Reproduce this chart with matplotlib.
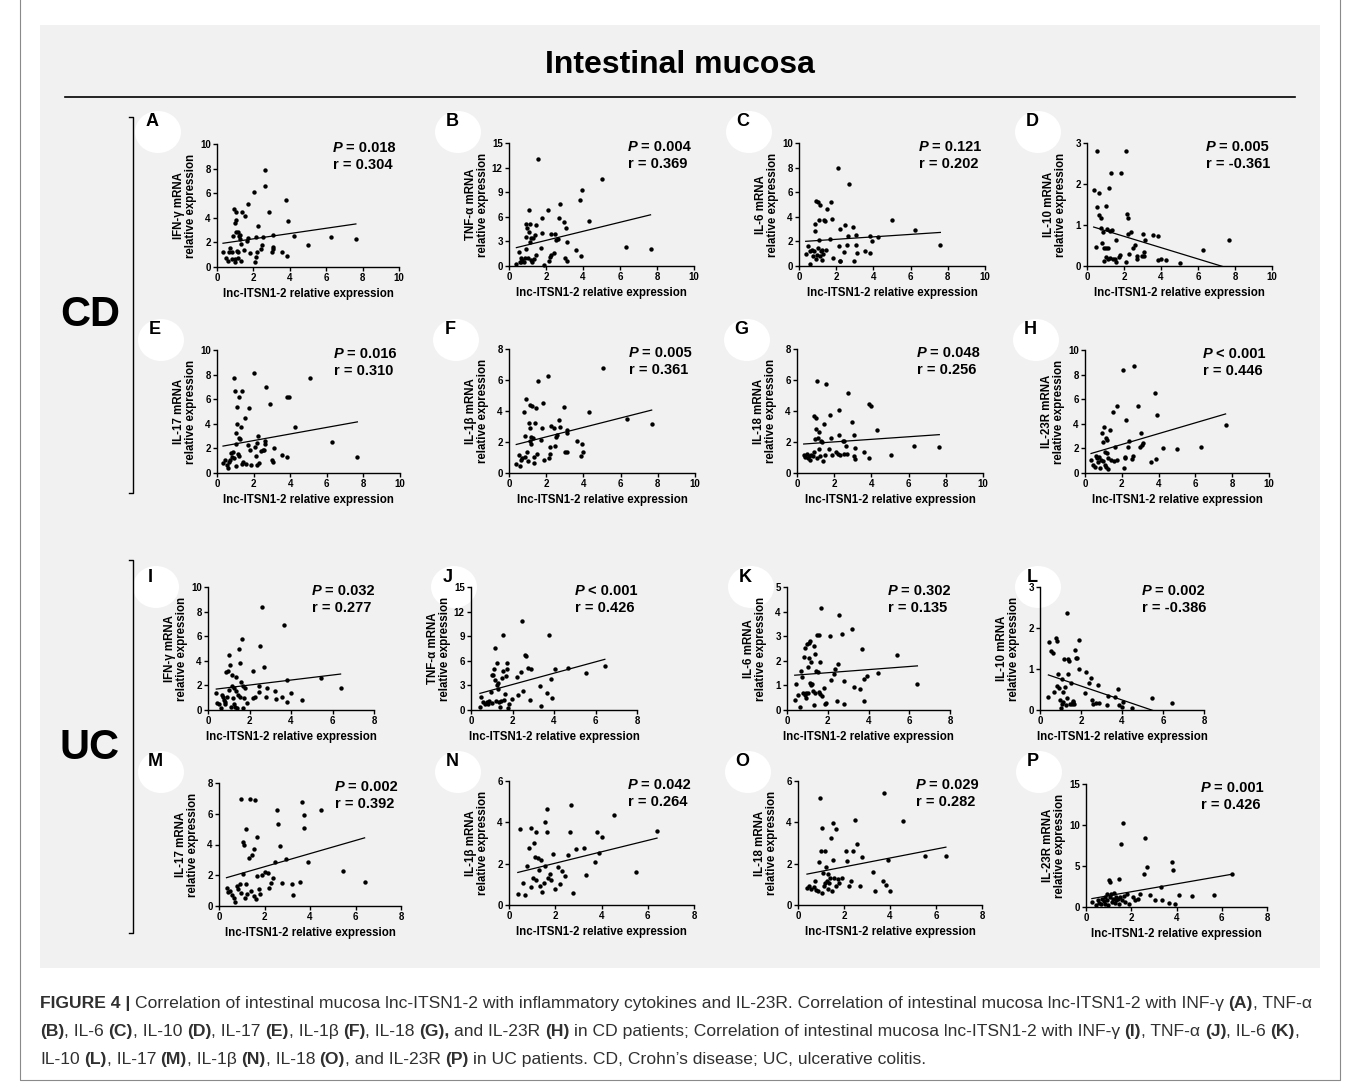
import numpy as np
import matplotlib
matplotlib.use('Agg')
import matplotlib.pyplot as plt
from matplotlib.patches import Rectangle, Ellipse
from matplotlib.lines import Line2D
from matplotlib import font_manager

W, H = 1360, 1085
plt.rcParams['font.family'] = ['Liberation Sans', 'DejaVu Sans']
plt.rcParams['font.weight'] = 'bold'
plt.rcParams['axes.linewidth'] = 1.0

# ---- CD panels (A-H) ----
a_x = [0.33,0.47,0.6,0.68,0.73,0.8,0.82,0.88,0.91,0.97,1.0,1.0,1.02,1.06,1.06,1.09,1.13,1.13,1.17,1.2,1.24,1.28,1.31,1.33,1.39,1.46,1.53,1.64,1.73,1.73,1.82,2.06,2.1,2.14,2.14,2.19,2.23,2.41,2.46,2.55,2.61,2.65,2.88,3.01,3.05,3.1,3.1,3.56,3.8,3.83,3.92,4.23,5.02,6.24,7.63]
a_y = [1.25,0.76,0.5,1.25,1.52,0.65,1.25,2.55,4.7,0.65,0.43,3.56,3.83,4.5,2.88,1.33,2.88,0.7,1.25,2.55,2.28,2.6,1.85,0.5,4.46,1.39,4.16,2.12,2.39,5.14,1.1,6.09,0.43,0.84,2.47,1.2,3.34,1.47,1.79,2.47,6.55,7.85,4.51,1.25,2.6,1.66,1.47,1.25,5.46,0.92,3.7,2.55,1.79,2.47,2.28]

b_x = [0.4,0.52,0.58,0.63,0.67,0.72,0.79,0.85,0.9,0.94,0.94,0.97,1.03,1.06,1.08,1.12,1.15,1.17,1.21,1.25,1.3,1.34,1.39,1.44,1.48,1.57,1.75,1.8,1.8,1.88,2.11,2.17,2.2,2.26,2.29,2.44,2.47,2.56,2.65,2.71,2.74,2.96,3.01,3.1,3.14,3.12,3.61,3.86,3.9,3.97,4.31,5.05,6.32,7.65]
b_y = [0.24,1.67,0.53,1.02,0.45,0.73,0.53,1.02,2.08,3.59,5.1,4.6,0.94,6.77,4.2,2.98,5.1,3.38,0.73,0.45,3.46,0.86,3.79,5.01,1.35,13.04,2.16,4.08,5.83,0.12,6.85,0.61,1.14,1.35,3.87,1.55,3.87,3.18,3.3,5.83,7.5,5.34,1.02,4.61,0.61,2.9,1.96,8.07,1.22,9.29,5.54,10.64,2.32,2.04]

c_x = [0.36,0.48,0.57,0.61,0.71,0.75,0.79,0.84,0.86,0.89,0.93,0.96,1.02,1.04,1.07,1.09,1.11,1.14,1.18,1.22,1.25,1.29,1.34,1.38,1.47,1.52,1.65,1.74,1.79,1.83,2.09,2.15,2.18,2.22,2.22,2.4,2.45,2.58,2.63,2.69,2.9,2.94,3.04,3.08,3.11,3.53,3.8,3.83,3.94,4.24,5.02,6.25,7.6]
c_y = [1.0,1.6,0.19,1.19,1.33,0.79,1.19,2.82,3.44,0.6,5.31,0.92,5.2,1.46,2.14,3.77,0.79,4.99,1.19,1.33,0.51,1.0,3.77,3.63,1.27,4.66,2.22,5.2,3.85,0.65,7.97,1.6,0.43,0.38,3.04,1.14,3.31,1.73,2.41,6.67,3.14,0.43,1.73,2.49,1.06,1.19,2.41,1.06,2.06,2.36,3.77,2.9,1.68]

d_x = [0.36,0.51,0.56,0.56,0.65,0.65,0.78,0.78,0.83,0.87,0.9,0.94,1.01,1.01,1.05,1.08,1.12,1.14,1.19,1.23,1.27,1.32,1.36,1.41,1.5,1.56,1.59,1.74,1.81,1.86,2.1,2.13,2.17,2.22,2.19,2.28,2.4,2.5,2.59,2.68,2.71,2.95,3.0,3.07,3.09,3.13,3.58,3.85,3.85,3.98,4.27,5.03,6.29,7.65]
d_y = [1.86,0.47,2.8,1.45,1.77,1.24,1.16,0.93,0.57,0.83,0.43,0.11,1.47,0.43,0.22,0.9,0.16,0.44,1.9,0.2,0.85,2.27,0.87,0.16,0.16,0.63,0.1,0.22,0.26,2.26,0.1,2.81,1.28,1.16,0.79,0.3,0.83,0.44,0.5,0.25,0.16,0.25,0.79,0.34,0.24,0.63,0.75,0.74,0.14,0.18,0.14,0.08,0.38,0.63]

e_x = [0.33,0.45,0.55,0.6,0.67,0.73,0.78,0.82,0.87,0.91,0.95,1.0,1.02,1.05,1.05,1.09,1.09,1.13,1.18,1.18,1.22,1.27,1.31,1.35,1.38,1.42,1.55,1.6,1.67,1.73,1.78,1.85,2.04,2.09,2.15,2.16,2.18,2.24,2.27,2.4,2.49,2.55,2.6,2.64,2.67,2.91,3.0,3.05,3.09,3.55,3.85,3.85,3.96,4.27,5.09,6.27,7.67]
e_y = [0.82,1.03,0.63,0.43,0.9,1.03,1.63,1.3,1.71,7.74,1.22,6.68,2.39,0.54,3.29,5.38,3.97,1.52,6.14,1.36,2.83,2.8,3.7,0.76,6.68,0.9,4.51,0.71,2.26,5.27,1.9,0.63,8.15,2.12,1.36,0.63,2.45,2.99,0.82,1.79,1.9,1.9,2.34,2.61,6.96,5.65,1.03,0.9,2.07,1.44,1.3,6.14,6.2,3.7,7.69,2.53,1.3]

f_x = [0.39,0.52,0.61,0.66,0.72,0.79,0.84,0.88,0.93,0.97,1.02,1.08,1.11,1.11,1.15,1.17,1.2,1.24,1.27,1.33,1.35,1.38,1.44,1.51,1.58,1.71,1.8,1.83,1.87,2.12,2.15,2.19,2.22,2.28,2.42,2.46,2.55,2.59,2.68,2.73,2.94,3.02,3.12,3.14,3.14,3.63,3.9,3.99,3.86,4.31,5.06,6.32,7.67]
f_y = [0.61,1.19,0.43,0.82,0.97,3.96,1.04,2.38,4.76,1.36,0.78,3.24,2.88,4.39,2.08,1.86,2.34,4.32,2.23,0.65,1.04,3.2,4.17,1.21,5.95,2.12,2.92,4.54,0.82,6.29,0.99,1.69,1.21,3.03,2.88,1.73,2.34,2.44,3.42,2.94,4.28,1.36,2.77,1.36,2.59,2.05,1.84,1.36,1.1,3.96,6.77,3.48,3.16]

g_x = [0.36,0.45,0.54,0.57,0.63,0.68,0.75,0.86,0.9,0.93,0.95,1.04,1.04,1.08,1.08,1.13,1.16,1.2,1.25,1.29,1.34,1.38,1.43,1.49,1.58,1.74,1.79,1.83,1.88,2.11,2.19,2.24,2.28,2.29,2.46,2.51,2.54,2.65,2.69,2.74,2.96,3.05,3.08,3.1,3.14,3.62,3.85,3.89,3.98,4.3,5.05,6.31,7.65]
g_y = [1.14,1.03,1.25,0.97,1.08,0.86,1.18,1.12,3.7,1.33,2.19,2.84,3.55,5.91,0.97,2.26,1.55,2.62,1.08,2.04,1.98,0.8,3.18,1.14,5.76,1.55,3.72,2.26,1.18,1.33,1.23,4.09,2.47,1.18,2.04,1.25,2.04,1.72,1.25,5.16,3.31,1.08,2.47,1.61,0.92,1.33,4.47,0.97,4.32,2.75,1.18,1.72,1.68]

h_x = [0.33,0.45,0.54,0.6,0.67,0.72,0.78,0.82,0.85,0.91,0.96,0.99,1.03,1.07,1.09,1.12,1.14,1.18,1.21,1.25,1.27,1.36,1.39,1.5,1.58,1.63,1.72,1.76,2.08,2.12,2.17,2.17,2.23,2.36,2.41,2.54,2.59,2.66,2.9,2.99,3.04,3.08,3.13,3.57,3.8,3.84,3.93,4.26,5.02,6.29,7.64]
h_y = [1.06,0.65,0.51,1.41,1.19,0.92,1.33,0.38,1.06,3.28,1.0,2.55,3.77,0.65,1.73,2.82,0.51,1.65,2.68,0.33,1.19,3.5,1.06,4.99,1.0,2.09,5.47,1.06,8.37,0.38,1.33,1.19,4.31,2.14,2.6,1.11,1.38,8.7,5.45,2.09,3.22,2.28,2.47,0.92,6.48,1.11,4.72,2.01,1.92,2.09,3.9]

# ---- UC panels (I-P) ----
i_x = [0.4,0.43,0.51,0.63,0.67,0.72,0.79,0.8,0.83,0.88,0.91,0.96,0.99,1.03,1.07,1.11,1.15,1.17,1.2,1.23,1.27,1.3,1.33,1.36,1.39,1.43,1.47,1.52,1.55,1.6,1.63,1.67,1.71,1.75,1.79,1.87,2.16,2.19,2.28,2.44,2.48,2.51,2.6,2.68,2.79,2.83,3.24,3.27,3.56,3.67,3.8,3.8,3.99,4.52,5.43,6.39]
i_y = [1.35,0.54,0.46,0.19,1.22,1.08,0.81,0.46,0.68,3.05,1.08,3.16,4.46,1.62,3.65,0.27,2.84,1.97,1.0,0.46,1.81,0.27,2.7,1.54,0.19,1.22,4.92,3.86,1.08,2.3,5.76,1.97,0.19,1.0,1.81,0.59,3.16,0.95,1.03,1.97,1.49,5.19,8.38,3.51,1.08,1.76,1.54,0.89,1.08,6.95,2.43,0.62,1.35,0.81,2.57,1.76]

j_x = [0.43,0.48,0.6,0.68,0.76,0.84,0.89,0.95,0.99,1.03,1.08,1.11,1.16,1.16,1.19,1.24,1.27,1.29,1.32,1.37,1.4,1.43,1.48,1.53,1.56,1.59,1.64,1.67,1.72,1.75,1.79,1.83,1.96,2.21,2.25,2.4,2.48,2.53,2.61,2.66,2.77,2.85,2.9,3.33,3.36,3.66,3.78,3.86,3.9,4.06,4.67,5.54,6.45]
j_y = [0.41,1.62,0.93,0.69,0.93,0.69,1.09,2.15,4.26,0.81,4.26,4.99,7.58,3.65,1.09,3.04,5.68,2.55,3.24,0.93,0.41,1.09,3.93,4.74,9.2,1.22,1.9,4.18,4.99,5.68,0.2,0.69,1.34,4.05,1.82,4.66,10.82,2.31,6.69,6.61,5.07,1.22,4.99,2.96,0.53,2.03,9.2,3.77,1.42,4.95,5.15,4.46,5.39]

k_x = [0.38,0.44,0.52,0.65,0.69,0.73,0.78,0.85,0.87,0.9,0.93,0.95,0.98,1.01,1.03,1.06,1.09,1.11,1.14,1.18,1.19,1.22,1.26,1.31,1.34,1.36,1.39,1.44,1.47,1.5,1.55,1.58,1.6,1.63,1.67,1.71,1.8,1.88,1.93,2.12,2.17,2.29,2.37,2.45,2.5,2.53,2.69,2.78,2.82,3.18,3.27,3.56,3.67,3.76,3.8,3.95,4.49,5.42,6.4]
k_y = [0.41,1.04,0.61,0.14,1.58,1.35,0.68,2.16,0.61,2.54,0.47,0.68,2.7,1.76,0.68,2.74,2.12,1.08,2.81,1.01,1.96,1.04,0.77,0.2,2.59,0.68,2.26,1.58,3.04,1.55,3.04,0.74,1.96,0.64,4.15,0.57,0.91,0.23,0.3,3.01,1.22,1.45,1.66,0.36,1.86,3.88,3.08,0.23,1.19,3.28,0.92,0.85,2.46,0.36,1.24,1.38,1.49,2.23,1.04]

l_x = [0.41,0.44,0.52,0.65,0.7,0.76,0.81,0.85,0.89,0.94,0.98,1.01,1.06,1.09,1.11,1.14,1.19,1.22,1.27,1.3,1.33,1.37,1.38,1.43,1.46,1.51,1.54,1.59,1.63,1.66,1.71,1.76,1.82,1.92,1.92,2.2,2.24,2.41,2.47,2.52,2.6,2.73,2.85,2.88,3.28,3.33,3.66,3.82,3.85,3.98,4.03,4.5,5.48,6.42]
l_y = [0.32,1.66,1.44,1.38,0.43,1.76,1.68,0.58,0.87,0.53,0.24,0.06,0.14,0.75,0.2,0.45,1.24,0.57,0.12,0.3,2.37,1.24,0.89,1.19,0.14,0.65,0.14,0.22,0.19,0.14,1.46,1.27,1.27,1.7,1.0,0.41,0.92,0.65,0.77,0.24,0.14,0.16,0.61,0.16,0.12,0.35,0.32,0.51,0.12,0.08,0.19,0.04,0.3,0.16]

m_x = [0.33,0.39,0.49,0.55,0.65,0.72,0.78,0.85,0.91,0.98,0.98,1.04,1.07,1.11,1.14,1.17,1.2,1.24,1.3,1.37,1.4,1.46,1.53,1.56,1.59,1.63,1.66,1.69,1.76,1.82,1.89,2.02,2.15,2.21,2.28,2.37,2.47,2.54,2.6,2.7,2.76,2.93,3.19,3.25,3.54,3.67,3.74,3.74,3.9,4.49,5.43,6.4]
m_y = [1.19,0.91,0.97,0.69,0.54,0.26,1.3,1.12,1.41,6.96,0.86,4.15,2.05,4.0,0.54,1.41,5.02,0.76,3.14,6.96,0.97,3.29,0.65,3.72,6.92,0.48,4.5,1.95,1.08,0.76,1.99,2.2,2.12,1.19,1.51,1.84,2.85,6.23,5.35,3.89,1.47,3.07,1.41,0.69,1.56,6.75,5.95,5.08,2.85,6.27,2.27,1.56]

n_x = [0.38,0.48,0.61,0.7,0.77,0.86,0.93,0.96,1.02,1.09,1.12,1.15,1.18,1.25,1.28,1.34,1.38,1.44,1.5,1.54,1.57,1.63,1.66,1.7,1.76,1.82,1.89,1.98,2.14,2.21,2.3,2.4,2.53,2.62,2.69,2.78,2.88,3.26,3.33,3.74,3.81,3.9,4.0,4.54,5.5,6.4]
n_y = [0.55,3.67,1.08,0.5,1.9,2.75,0.88,3.71,1.3,3.02,2.31,3.55,1.19,2.27,1.7,0.92,2.19,0.61,1.05,4.04,1.9,3.55,4.63,1.3,1.51,1.22,2.48,0.77,1.85,1.03,1.64,1.41,2.43,3.52,4.84,0.58,2.73,2.77,1.45,2.09,3.55,2.54,3.31,4.36,1.62,3.6]

o_x = [0.39,0.48,0.55,0.68,0.74,0.8,0.87,0.93,0.96,0.99,1.03,1.06,1.09,1.13,1.16,1.19,1.22,1.25,1.29,1.32,1.35,1.38,1.45,1.48,1.51,1.54,1.58,1.64,1.67,1.74,1.8,1.9,2.09,2.15,2.22,2.31,2.41,2.48,2.57,2.7,2.8,3.28,3.34,3.7,3.76,3.83,3.92,3.99,4.57,5.53,6.43]
o_y = [0.82,0.9,0.77,0.87,1.14,0.74,0.66,2.06,5.19,2.59,0.58,3.71,1.54,0.9,1.06,2.59,1.86,1.14,1.48,0.77,1.06,1.3,3.23,0.66,3.99,2.19,1.3,3.68,0.9,1.25,1.06,1.3,2.59,2.15,0.93,1.14,2.59,4.1,2.97,0.93,2.33,1.61,0.66,1.14,5.4,0.98,2.17,0.66,4.05,2.38,2.38]

p_x = [0.26,0.42,0.52,0.59,0.65,0.72,0.78,0.82,0.85,0.92,0.95,0.98,1.01,1.05,1.08,1.11,1.14,1.18,1.24,1.27,1.31,1.34,1.41,1.44,1.47,1.5,1.54,1.57,1.63,1.7,1.73,1.8,1.9,2.06,2.16,2.32,2.39,2.55,2.61,2.71,2.81,3.04,3.3,3.37,3.69,3.79,3.86,3.92,4.12,4.67,5.65,6.45]
p_y = [0.61,0.2,0.9,0.49,0.33,1.02,0.74,1.23,0.41,1.55,0.9,0.2,3.35,1.23,3.07,1.63,0.61,1.02,1.72,0.49,1.23,0.82,1.02,3.47,0.33,1.23,7.68,0.9,10.22,1.31,0.61,1.55,0.33,1.23,0.9,1.02,1.55,4.0,8.38,4.9,1.43,0.9,2.45,0.82,0.49,5.52,4.5,0.33,1.43,1.31,1.43,4.0]

# regression lines: (intercept, slope)
fits = {'A': (1.86, 0.215), 'B': (2.02, 0.552), 'C': (1.97, 0.10), 'D': (1.0, -0.138),
        'E': (2.1, 0.268), 'F': (1.72, 0.305), 'G': (1.84, 0.083), 'H': (1.44, 0.44),
        'I': (1.62, 0.204), 'J': (1.73, 0.69), 'K': (1.39, 0.063), 'L': (0.925, -0.17),
        'M': (1.7, 0.427), 'N': (1.47, 0.276), 'O': (1.41, 0.216), 'P': (0.9, 0.48)}

p_text = {'A': '= 0.018', 'B': '= 0.004', 'C': '= 0.121', 'D': '= 0.005',
          'E': '= 0.016', 'F': '= 0.005', 'G': '= 0.048', 'H': '< 0.001',
          'I': '= 0.032', 'J': '< 0.001', 'K': '= 0.302', 'L': '= 0.002',
          'M': '= 0.002', 'N': '= 0.042', 'O': '= 0.029', 'P': '= 0.001'}
r_text = {'A': '0.304', 'B': '0.369', 'C': '0.202', 'D': '-0.361',
          'E': '0.310', 'F': '0.361', 'G': '0.256', 'H': '0.446',
          'I': '0.277', 'J': '0.426', 'K': '0.135', 'L': '-0.386',
          'M': '0.392', 'N': '0.264', 'O': '0.282', 'P': '0.426'}

cytokines = ['IFN-γ', 'TNF-α', 'IL-6', 'IL-10', 'IL-17', 'IL-1β', 'IL-18', 'IL-23R']
y_max = {'A': 10, 'B': 15, 'C': 10, 'D': 3, 'E': 10, 'F': 8, 'G': 8, 'H': 10,
         'I': 10, 'J': 15, 'K': 5, 'L': 3, 'M': 8, 'N': 6, 'O': 6, 'P': 15}
y_step = {'A': 2, 'B': 3, 'C': 2, 'D': 1, 'E': 2, 'F': 2, 'G': 2, 'H': 2,
          'I': 2, 'J': 3, 'K': 1, 'L': 1, 'M': 2, 'N': 2, 'O': 2, 'P': 5}

series = {'A': (a_x, a_y), 'B': (b_x, b_y), 'C': (c_x, c_y), 'D': (d_x, d_y),
          'E': (e_x, e_y), 'F': (f_x, f_y), 'G': (g_x, g_y), 'H': (h_x, h_y),
          'I': (i_x, i_y), 'J': (j_x, j_y), 'K': (k_x, k_y), 'L': (l_x, l_y),
          'M': (m_x, m_y), 'N': (n_x, n_y), 'O': (o_x, o_y), 'P': (p_x, p_y)}

# axes boxes in pixels: left, right, top, bottom
boxes = {'A': (217, 399, 144, 267), 'B': (509, 694, 143, 266), 'C': (799, 985, 143, 266), 'D': (1087, 1272, 143, 266),
         'E': (217, 400, 350, 473), 'F': (509, 695, 349, 473), 'G': (797, 983, 349, 473), 'H': (1085, 1269, 350, 473),
         'I': (208, 374, 587, 710), 'J': (471, 637, 587, 710), 'K': (787, 950, 587, 710), 'L': (1040, 1204, 587, 710),
         'M': (219, 401, 783, 906), 'N': (509, 694, 781, 905), 'O': (798, 982, 781, 905), 'P': (1086, 1267, 784, 907)}
letters_at = {'A': (152, 122), 'B': (452, 122), 'C': (743, 122), 'D': (1032, 122),
              'E': (155, 330), 'F': (450, 330), 'G': (741, 330), 'H': (1030, 330),
              'I': (150, 577), 'J': (448, 577), 'K': (745, 577), 'L': (1032, 577),
              'M': (155, 762), 'N': (452, 762), 'O': (742, 762), 'P': (1033, 762)}


def fx(x):
    return x / W


def fy(y):
    return 1 - y / H


fig = plt.figure(figsize=(W / 100, H / 100), dpi=100)
fig.patch.set_facecolor('white')

# grey figure box + outer frame (kept under the axes)
fig.patches.append(Rectangle((fx(40), fy(968)), (1320 - 40) / W, (968 - 25) / H,
                             transform=fig.transFigure, facecolor='#f1f1f1',
                             edgecolor='none', zorder=-3))
fig.add_artist(Line2D([fx(20), fx(20), fx(1340), fx(1340)], [1.02, fy(1080), fy(1080), 1.02],
                      color='#8a8a8a', lw=0.8))

fig.text(fx(680), fy(65), 'Intestinal mucosa', fontsize=23, ha='center', va='center')
fig.add_artist(Line2D([fx(65), fx(1295)], [fy(97), fy(97)], color='black', lw=1.2))

for name, yc, top, bot in [('CD', 315, 117, 493), ('UC', 748, 560, 933)]:
    fig.text(fx(90), fy(yc), name, fontsize=30, ha='center', va='center')
    fig.add_artist(Line2D([fx(129), fx(133), fx(133), fx(129)], [fy(top), fy(top), fy(bot), fy(bot)],
                          color='black', lw=1.0))

for key in 'ABCDEFGHIJKLMNOP':
    xs, ys = series[key]
    x0, x1, yt, yb = boxes[key]
    uc = key in 'IJKLMNOP'
    xmax = 8 if uc else 10
    lx_, ly_ = letters_at[key]
    fig.patches.append(Ellipse((fx(lx_ + 6), fy(ly_ + 10)), 46 / W, 42 / H, transform=fig.transFigure,
                               facecolor='white', edgecolor='none', zorder=-2))
    fig.text(fx(lx_), fy(ly_), key, fontsize=13, ha='center', va='center')

    ax = fig.add_axes([fx(x0), fy(yb), (x1 - x0) / W, (yb - yt) / H])
    ax.set_facecolor('none')
    n = min(len(xs), len(ys))
    ax.scatter(xs[:n], ys[:n], s=10, c='black', linewidths=0, clip_on=False, zorder=3)
    b0, b1 = fits[key]
    lx = np.array([min(xs), max(xs)])
    ax.plot(lx, b0 + b1 * lx, color='black', lw=0.9)
    ax.set_xlim(0, xmax)
    ax.set_ylim(0, y_max[key])
    ax.set_xticks(range(0, xmax + 1, 2))
    ax.set_yticks(range(0, y_max[key] + 1, y_step[key]))
    for s in ['top', 'right']:
        ax.spines[s].set_visible(False)
    ax.tick_params(length=3, width=1, labelsize=7, pad=1.5)

    cyto = cytokines['IJKLMNOP'.index(key)] if uc else cytokines['ABCDEFGH'.index(key)]
    fig.text(fx(x0 - 32), fy((yt + yb) / 2), cyto + ' mRNA\nrelative expression', rotation=90,
             ha='center', va='center', fontsize=8.3, linespacing=1.1)
    fig.text(fx((x0 + x1) / 2), fy(yb + 27), 'lnc-ITSN1-2 relative expression',
             ha='center', va='center', fontsize=8.3)

    off = 62 if key in 'IJKL' else 66
    t1 = fig.text(fx(x1 - off), fy(yt + 4), 'P', fontsize=10.5, style='italic', ha='left', va='center')
    fig.add_artist(matplotlib.text.Annotation(p_text[key], xy=(1, 0.5), xycoords=t1, xytext=(2.6, 0),
                                              textcoords='offset points', ha='left', va='center',
                                              fontsize=10.5))
    fig.text(fx(x1 - off), fy(yt + 21), 'r = ' + r_text[key], fontsize=10.5, ha='left', va='center')

# caption with mixed bold runs
try:
    font_manager.findfont('Liberation Sans Narrow', fallback_to_default=False)
    cap_family = ['Liberation Sans Narrow', 'DejaVu Sans']
    cap_size = 15.3
except ValueError:
    cap_family = ['Liberation Sans', 'DejaVu Sans']
    cap_size = 12.6

cap_lines = [
    [('FIGURE 4 |', 1, 0),
     ('Correlation of intestinal mucosa lnc-ITSN1-2 with inflammatory cytokines and IL-23R. '
      'Correlation of intestinal mucosa lnc-ITSN1-2 with INF-γ', 0, 1),
     ('(A)', 1, 1), (', TNF-α', 0, 0)],
    [('(B)', 1, 0), (', IL-6', 0, 0), ('(C)', 1, 1), (', IL-10', 0, 0), ('(D)', 1, 1),
     (', IL-17', 0, 0), ('(E)', 1, 1), (', IL-1β', 0, 0), ('(F)', 1, 1), (', IL-18', 0, 0),
     ('(G),', 1, 1), ('and IL-23R', 0, 1), ('(H)', 1, 1),
     ('in CD patients; Correlation of intestinal mucosa lnc-ITSN1-2 with INF-γ', 0, 1),
     ('(I)', 1, 1), (', TNF-α', 0, 0), ('(J)', 1, 1), (', IL-6', 0, 0), ('(K)', 1, 1), (',', 0, 0)],
    [('IL-10', 0, 0), ('(L)', 1, 1), (', IL-17', 0, 0), ('(M)', 1, 1), (', IL-1β', 0, 0),
     ('(N)', 1, 1), (', IL-18', 0, 0), ('(O)', 1, 1), (', and IL-23R', 0, 0), ('(P)', 1, 1),
     ('in UC patients. CD, Crohn\u2019s disease; UC, ulcerative colitis.', 0, 1)],
]
gap = 0.26 * cap_size
for row, yline in zip(cap_lines, [1002, 1030, 1058]):
    prev = None
    for txt, bold, sp in row:
        kw = dict(fontsize=cap_size, family=cap_family, color='#303030',
                  fontweight='bold' if bold else 'normal', ha='left', va='bottom')
        if prev is None:
            prev = fig.text(fx(40), fy(yline + 9), txt, **kw)
        else:
            prev = fig.add_artist(matplotlib.text.Annotation(txt, xy=(1, 0), xycoords=prev,
                                                             xytext=(gap * sp, 0),
                                                             textcoords='offset points', **kw))

fig.savefig('out.png', dpi=100)
